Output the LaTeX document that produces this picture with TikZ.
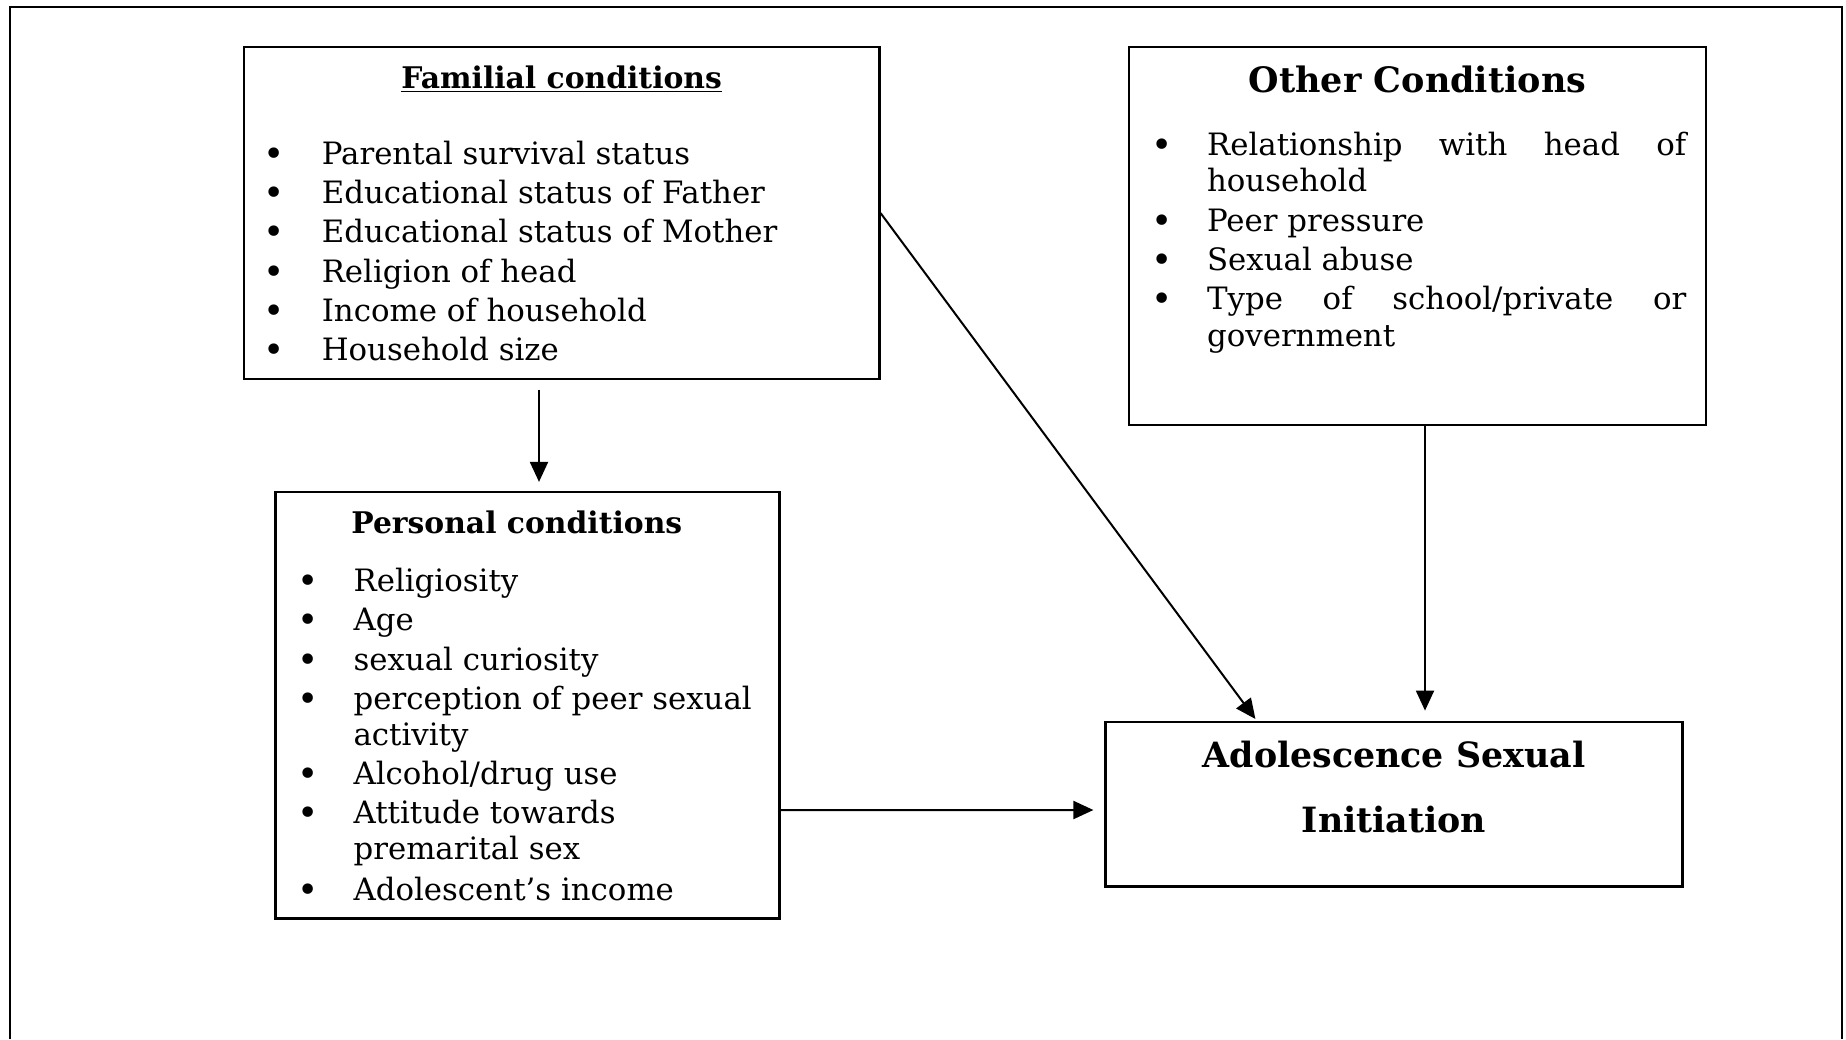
\documentclass[tikz,border=0pt]{standalone}
\usepackage{fontspec}
\setmainfont{DejaVu Serif}
\usetikzlibrary{arrows.meta}
\tikzset{
  box/.style={draw, line width=1.1pt, rectangle, inner sep=0pt},
  txt/.style={anchor=base west, inner sep=0pt, font=\fontsize{15.4}{18}\selectfont},
  ttl/.style={anchor=base, inner sep=0pt, font=\fontsize{14.9}{18}\selectfont\bfseries},
  arr/.style={line width=1pt, -{Triangle[length=10pt,width=9pt]}},
}
\newcommand\bul[1]{\llap{\makebox[#1][l]{\raisebox{-1.2pt}{\fontsize{18}{18}\selectfont •}}}}
\begin{document}
\begin{tikzpicture}[x=0.5pt,y=-0.5pt]
\useasboundingbox (0,0) rectangle (1846,1039);
\draw[line width=1pt] (10,1039) -- (10,7) -- (1842,7) -- (1842,1039);
% boxes
\node[box, minimum width=317.9pt, minimum height=166pt] (fam) at (561.6,213.1) {};
\node[box, minimum width=288.5pt, minimum height=189pt] (oth) at (1417.5,236) {};
\node[box, minimum width=252pt, minimum height=213.2pt] (per) at (527.5,705.2) {};
\node[box, minimum width=288.5pt, minimum height=82.4pt] (ado) at (1394,804.1) {};
% familial
\node[ttl] (famt) at (561.6,88) {\underline{Familial conditions}};
\node[txt] (f1) at (321.4,164) {\bul{29pt}Parental survival status};
\node[txt] (f2) at (321.4,203) {\bul{29pt}Educational status of Father};
\node[txt] (f3) at (321.4,242) {\bul{29pt}Educational status of Mother};
\node[txt] (f4) at (321.4,282) {\bul{29pt}Religion of head};
\node[txt] (f5) at (321.4,321) {\bul{29pt}Income of household};
\node[txt] (f6) at (321.4,360) {\bul{29pt}Household size};
% other
\node[ttl, font=\fontsize{17.5}{20}\selectfont\bfseries] (otht) at (1417.5,92) {Other Conditions};
\node[txt] (o1) at (1206.7,155) {\bul{28pt}\makebox[239.6pt][s]{Relationship with head of}};
\node[txt] (o1b) at (1206.7,191) {household};
\node[txt] (o2) at (1206.7,231) {\bul{28pt}Peer pressure};
\node[txt] (o3) at (1206.7,270) {\bul{28pt}Sexual abuse};
\node[txt] (o4) at (1206.7,309) {\bul{28pt}\makebox[239.6pt][s]{Type of school/private or}};
\node[txt] (o4b) at (1206.7,346) {government};
% personal
\node[ttl] (pert) at (516.8,533) {Personal conditions};
\node[txt] (p1) at (353.2,591) {\bul{28pt}Religiosity};
\node[txt] (p2) at (353.2,630) {\bul{28pt}Age};
\node[txt] (p3) at (353.2,670) {\bul{28pt}sexual curiosity};
\node[txt] (p4) at (353.2,709) {\bul{28pt}perception of peer sexual};
\node[txt] (p4b) at (353.2,745) {activity};
\node[txt] (p5) at (353.2,784) {\bul{28pt}Alcohol/drug use};
\node[txt] (p6) at (353.2,823) {\bul{28pt}Attitude towards};
\node[txt] (p6b) at (353.2,859) {premarital sex};
\node[txt] (p7) at (353.2,900) {\bul{28pt}Adolescent’s income};
% adolescence
\node[ttl, font=\fontsize{17.4}{20}\selectfont\bfseries] (a1) at (1394,767) {Adolescence Sexual};
\node[ttl, font=\fontsize{17.4}{20}\selectfont\bfseries] (a2) at (1394,832) {Initiation};
% arrows
\draw[arr, shorten <=4.7pt, shorten >=4.5pt] ([xshift=-11.3pt]fam.south) -- ([xshift=5.75pt]per.north);
\draw[arr, shorten >=1pt] (fam.east) -- ([xshift=-68.7pt]ado.north);
\draw[arr, shorten >=5pt] ([xshift=3.75pt]oth.south) -- ([xshift=15.5pt]ado.north);
\draw[arr, shorten >=5.5pt] ([yshift=-52.4pt]per.east) -- ([yshift=-2.95pt]ado.west);
\end{tikzpicture}
\end{document}
